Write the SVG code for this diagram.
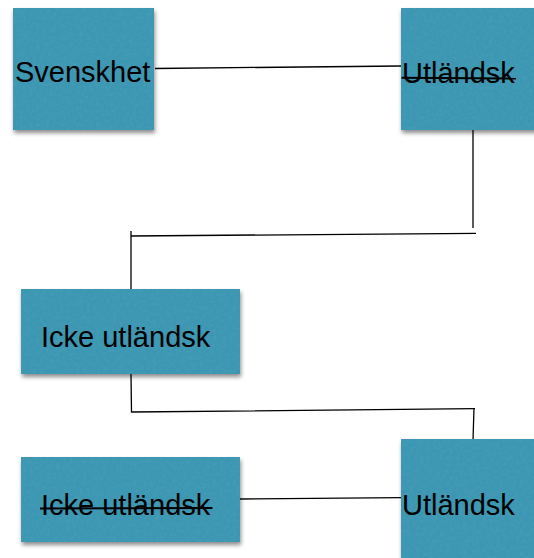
<svg xmlns="http://www.w3.org/2000/svg" width="534" height="558" viewBox="0 0 534 558">
<style>
.box{fill:#3a97b3;filter:url(#tex);}
.lbl{font-family:"Liberation Sans",Arial,Helvetica,sans-serif;font-size:29px;fill:#000;}
.con{stroke:#000;stroke-width:1.3;fill:none;}
.strike{stroke:#000;stroke-width:2;}
</style>
<defs>
<filter id="tex" x="-5%" y="-5%" width="115%" height="120%">
<feTurbulence type="fractalNoise" baseFrequency="0.3" numOctaves="2" seed="3" result="n"/>
<feColorMatrix in="n" type="matrix" values="0 0 0 0 0.1  0 0 0 0 0.35  0 0 0 0 0.45  0 0 0 -1.4 0.85" result="dark"/>
<feComposite in="dark" in2="SourceGraphic" operator="in" result="darkIn"/>
<feComponentTransfer in="darkIn" result="darkA"><feFuncA type="linear" slope="0.55"/></feComponentTransfer>
<feDropShadow in="SourceGraphic" dx="1" dy="3" stdDeviation="2" flood-color="#000" flood-opacity="0.45" result="sh"/>
<feMerge><feMergeNode in="sh"/><feMergeNode in="darkA"/></feMerge>
</filter>
</defs>
<g id="connectors">
<path class="con" d="M155 68.5 L401 66"/>
<path class="con" d="M473 130 L473 228"/>
<path class="con" d="M476 233.3 L131 236"/>
<path class="con" d="M131 231 L131 289"/>
<path class="con" d="M131 374 L131.5 412 L475 408.7"/>
<path class="con" d="M474 408 L473 440"/>
<path class="con" d="M240 499 L401 497.7"/>
</g>
<g id="node-svenskhet">
<rect class="box" x="13" y="8" width="141" height="122"/>
<text class="lbl" x="15" y="82">Svenskhet</text>
</g>
<g id="node-utlandsk-top">
<rect class="box" x="401" y="8" width="140" height="122"/>
<text class="lbl" x="402" y="83">Utländsk</text>
<line class="strike" x1="401.5" y1="77.7" x2="516" y2="78.5"/>
</g>
<g id="node-icke-utlandsk">
<rect class="box" x="21" y="289" width="219" height="85"/>
<text class="lbl" x="41" y="347">Icke utländsk</text>
</g>
<g id="node-icke-utlandsk-struck">
<rect class="box" x="21" y="457" width="219" height="85"/>
<text class="lbl" x="41" y="515">Icke utländsk</text>
<line class="strike" x1="40" y1="508.5" x2="212.5" y2="508"/>
</g>
<g id="node-utlandsk-bottom">
<rect class="box" x="401" y="439" width="140" height="130"/>
<text class="lbl" x="402" y="515">Utländsk</text>
</g>
</svg>
